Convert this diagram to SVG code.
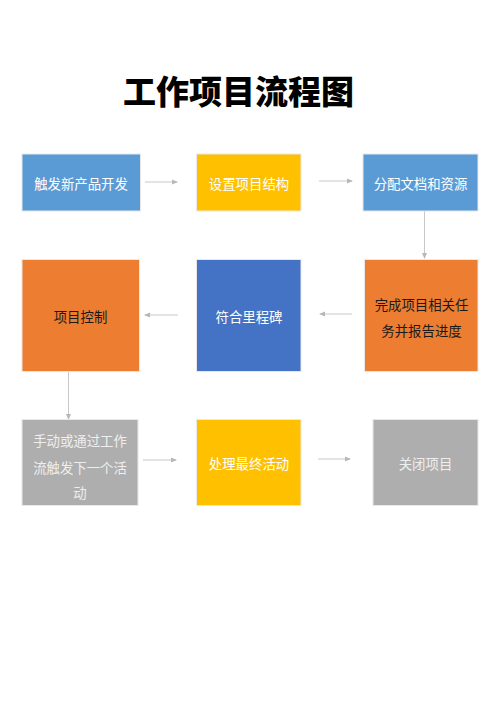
<svg xmlns="http://www.w3.org/2000/svg" width="500" height="707" viewBox="0 0 500 707">
<style>
text{font-family:"Noto Sans CJK SC","Microsoft YaHei",sans-serif;font-size:13.4px;text-anchor:middle;dominant-baseline:central}
.w{fill:#ffffff}.d{fill:#1a1a1a}.g{fill:#eeeeee}
.b{stroke:#e8e8e8;stroke-width:1}
.c{stroke:#c8c8c8;stroke-width:1;fill:none;marker-end:url(#ah)}
</style>
<defs>
<marker id="ah" viewBox="0 0 6 6" refX="5" refY="3" markerWidth="6" markerHeight="6" markerUnits="userSpaceOnUse" orient="auto">
<path d="M0,0.5 L6,3 L0,5.5 Z" fill="#b8b8b8"/>
</marker>
</defs>
<rect width="500" height="707" fill="#ffffff"/>
<text id="title" x="238.5" y="90" style="font-size:33px;font-weight:900;fill:#000">工作项目流程图</text>
<g id="connectors">
<line class="c" x1="145" y1="182" x2="177" y2="182"/>
<line class="c" x1="319" y1="181" x2="352" y2="181"/>
<line class="c" x1="424.5" y1="211" x2="424.5" y2="258"/>
<line class="c" x1="352" y1="314" x2="320" y2="314"/>
<line class="c" x1="178" y1="315" x2="145" y2="315"/>
<line class="c" x1="68.5" y1="371" x2="68.5" y2="419"/>
<line class="c" x1="143" y1="460" x2="176" y2="460"/>
<line class="c" x1="318" y1="459" x2="350" y2="459"/>
</g>
<g id="n1"><rect class="b" x="22" y="154" width="118.5" height="57" fill="#5b9bd5"/><text class="w" x="81" y="182.5">触发新产品开发</text></g>
<g id="n2"><rect class="b" x="196.5" y="154" width="104.5" height="57" fill="#ffc000"/><text class="w" x="249" y="182.5">设置项目结构</text></g>
<g id="n3"><rect class="b" x="363" y="154" width="115" height="57" fill="#5b9bd5"/><text class="w" x="420.5" y="182.5">分配文档和资源</text></g>
<g id="n4"><rect class="b" x="22" y="259.5" width="117.5" height="112" fill="#ed7d31"/><text class="d" x="80.5" y="316">项目控制</text></g>
<g id="n5"><rect class="b" x="196.5" y="259.5" width="104.5" height="112" fill="#4472c4"/><text class="w" x="249" y="316">符合里程碑</text></g>
<g id="n6"><rect class="b" x="364.5" y="259.5" width="113.5" height="112" fill="#ed7d31"/><text class="d" x="421.5" y="304">完成项目相关任</text><text class="d" x="421.5" y="330">务并报告进度</text></g>
<g id="n7"><rect class="b" x="22" y="419.5" width="116" height="86" fill="#aeaeae"/><text class="g" x="80" y="440">手动或通过工作</text><text class="g" x="80" y="466.5">流触发下一个活</text><text class="g" x="80" y="491.5">动</text></g>
<g id="n8"><rect class="b" x="196.5" y="419.5" width="104.5" height="86" fill="#ffc000"/><text class="w" x="249" y="463">处理最终活动</text></g>
<g id="n9"><rect class="b" x="373" y="419.5" width="105" height="86" fill="#aeaeae"/><text class="g" x="425.5" y="463">关闭项目</text></g>
</svg>
